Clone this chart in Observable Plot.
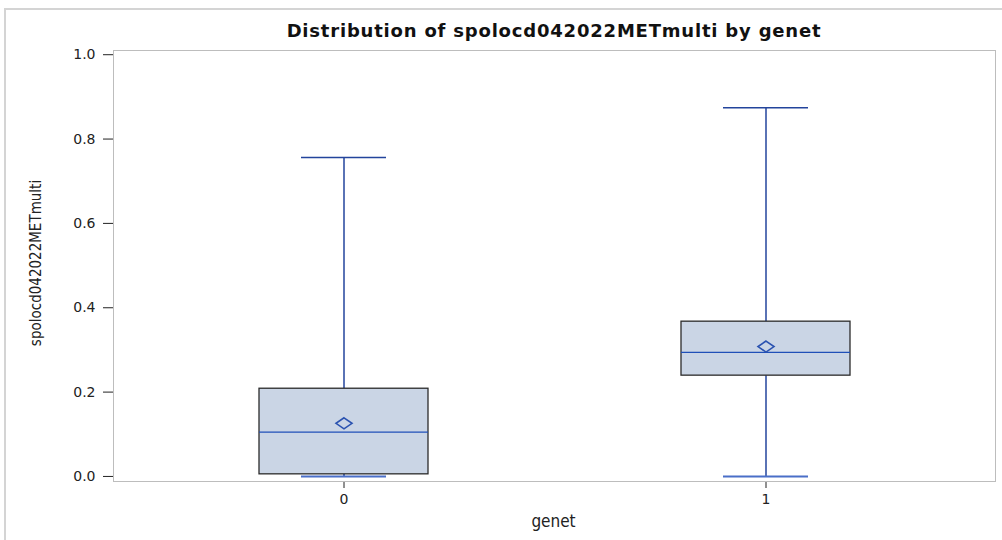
<!DOCTYPE html>
<html>
<head>
<meta charset="utf-8">
<script src="https://cdn.jsdelivr.net/npm/d3@7"></script>
<script src="https://cdn.jsdelivr.net/npm/@observablehq/plot@0.6"></script>
<style>
  html, body { margin: 0; padding: 0; background: #fff; }
  #wrap { position: relative; width: 1002px; height: 540px; overflow: hidden; background: #fff; font-family: "Liberation Sans", Arial, sans-serif; }
  #outer { position: absolute; left: 4px; top: 8px; width: 1100px; height: 600px; border-top: 2px solid #d4d4d4; border-left: 2px solid #d4d4d4; box-sizing: border-box; }
  #title { position: absolute; z-index: 2; left: 113px; width: 882px; top: 20px; text-align: center; font-family: "DejaVu Sans", sans-serif; font-weight: bold; font-size: 18px; letter-spacing: 0.8px; color: #111; line-height: 22px; white-space: nowrap; }
  #chart { position: absolute; z-index: 1; left: 0; top: 40px; }
</style>
</head>
<body>
<div id="wrap">
  <div id="outer"></div>
  <div id="title">Distribution of spolocd042022METmulti by genet</div>
  <div id="chart"></div>
</div>
<script>
const groups  = ["0", "1"];
const mins    = [0.000, 0.000];
const q1s     = [0.005, 0.239];
const medians = [0.105, 0.294];
const means   = [0.126, 0.308];
const q3s     = [0.208, 0.367];
const maxs    = [0.756, 0.874];
const yTicks  = [0, 0.2, 0.4, 0.6, 0.8, 1.0];
const yLabel  = "spolocd042022METmulti";
const xLabel  = "genet";

const data = groups.map((g, i) => ({
  g, min: mins[i], q1: q1s[i], median: medians[i], mean: means[i], q3: q3s[i], max: maxs[i]
}));

const whisker = "#23449c";
const medianColor = "#1f4fb8";
const condensed = "'DejaVu Sans Condensed', 'DejaVu Sans', sans-serif";

const flatDiamond = {
  draw(context, size) {
    const r = Math.sqrt(size / Math.PI);
    const w = r * 1.6, h = r * 1.1;
    context.moveTo(0, -h);
    context.lineTo(w, 0);
    context.lineTo(0, h);
    context.lineTo(-w, 0);
    context.closePath();
  }
};

const chart = Plot.plot({
  width: 1002,
  height: 500,
  marginTop: 10,
  marginBottom: 59,
  marginLeft: 113,
  marginRight: 7,
  style: { fontFamily: "'DejaVu Sans', sans-serif", fontSize: "14px", color: "#222", background: "transparent" },
  x: { domain: groups, paddingInner: 0.6, paddingOuter: 0.345, tickSize: 7, tickPadding: 6, label: null },
  y: { domain: [-0.012, 1.01], ticks: yTicks, tickFormat: d3.format(".1f"), tickSize: 10, tickPadding: 8, label: null },
  marks: [
    Plot.frame({ stroke: "#bdbdbd" }),
    Plot.ruleX(data, { x: "g", y1: "min", y2: "q1", stroke: whisker, strokeWidth: 1.5 }),
    Plot.ruleX(data, { x: "g", y1: "q3", y2: "max", stroke: whisker, strokeWidth: 1.5 }),
    Plot.barY(data, { x: "g", y1: "q1", y2: "q3", fill: "#cad5e5", stroke: "#2b2b2b", strokeWidth: 1.3 }),
    Plot.tickY(data, { x: "g", y: "median", stroke: medianColor, strokeWidth: 1.3 }),
    Plot.tickY(data, { x: "g", y: "max", stroke: whisker, strokeWidth: 1.5, inset: 42 }),
    Plot.tickY(data, { x: "g", y: "min", stroke: "#4a6fc8", strokeWidth: 2, inset: 42 }),
    Plot.dot(data, { x: "g", y: "mean", symbol: flatDiamond, r: 5, stroke: "#2a52b0", strokeWidth: 1.6, fill: "none" }),
    Plot.text([yLabel], { frameAnchor: "left", textAnchor: "middle", dx: -77, dy: -3, rotate: -90, fontSize: 15, fill: "#222", fontFamily: condensed, fontStretch: "condensed" }),
    Plot.text([xLabel], { frameAnchor: "bottom", textAnchor: "middle", dx: -1, dy: 45, fontSize: 17, fill: "#222", fontFamily: condensed, fontStretch: "condensed" })
  ]
});
document.getElementById("chart").appendChild(chart);
</script>
</body>
</html>
